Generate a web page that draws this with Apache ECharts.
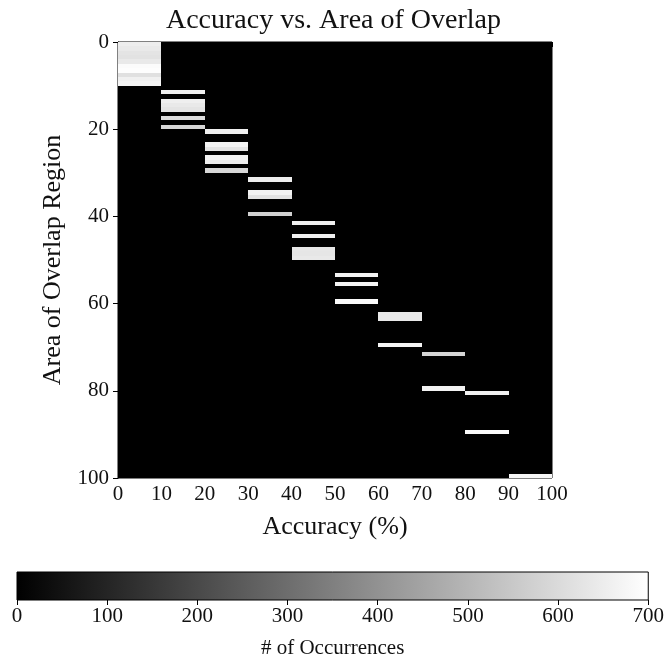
<!DOCTYPE html>
<html>
<head>
<meta charset="utf-8">
<script src="https://cdn.jsdelivr.net/npm/echarts@6/dist/echarts.min.js"></script>
<style>
  html, body { margin: 0; padding: 0; background: #fff; }
  #chart { width: 667px; height: 660px; }
</style>
</head>
<body>
<div id="chart"></div>
<script>
// accuracy bins (left edge, %) and overlap rows
var accuracyBins = [0, 10, 20, 30, 40, 50, 60, 70, 80, 90];
var overlapRows = 100;

// non-zero cells: bin index, overlap row, count
var cellBin = [0, 0, 0, 0, 0, 0, 0, 0, 0, 0,
  1, 1, 1, 1, 1, 1,
  2, 2, 2, 2, 2, 2,
  3, 3, 3, 3,
  4, 4, 4, 4, 4,
  5, 5, 5,
  6, 6, 6,
  7, 7,
  8, 8,
  9];
var cellRow = [0, 1, 2, 3, 4, 5, 6, 7, 8, 9,
  11, 13, 14, 15, 17, 19,
  20, 23, 24, 26, 27, 29,
  31, 34, 35, 39,
  41, 44, 47, 48, 49,
  53, 55, 59,
  62, 63, 69,
  71, 79,
  80, 89,
  99];
var cellCount = [650, 640, 625, 620, 640, 690, 695, 615, 660, 670,
  660, 655, 640, 625, 600, 590,
  660, 670, 625, 665, 650, 590,
  650, 665, 620, 575,
  660, 660, 635, 630, 640,
  665, 670, 690,
  640, 640, 670,
  585, 665,
  660, 685,
  675];
var maxCount = 700;

// full grid of counts, zero where nothing was drawn
var counts = [];
accuracyBins.forEach(function (b) {
  for (var r = 0; r < overlapRows; r++) counts.push([b, r, 0]);
});
cellBin.forEach(function (b, k) {
  counts[b * overlapRows + cellRow[k]][2] = cellCount[k];
});

function gray(v) {
  var g = Math.round(255 * Math.min(v, maxCount) / maxCount);
  return 'rgb(' + g + ',' + g + ',' + g + ')';
}

var font = '"Liberation Serif", "DejaVu Serif", serif';
var chart = echarts.init(document.getElementById('chart'));

chart.setOption({
  animation: false,
  title: {
    text: 'Accuracy vs. Area of Overlap',
    left: 'center',
    top: 2,
    textStyle: { fontFamily: font, fontSize: 28, fontWeight: 'normal', color: '#111' }
  },
  grid: [
    { left: 118, right: 115, top: 42, bottom: 182, show: true, borderColor: '#000', borderWidth: 1, backgroundColor: '#000' },
    { left: 17, right: 14, top: 572, height: 34 }
  ],
  xAxis: [
    {
      gridIndex: 0, type: 'value', min: 0, max: 100, interval: 10,
      name: 'Accuracy (%)', nameLocation: 'middle', nameGap: 36,
      nameTextStyle: { fontFamily: font, fontSize: 26, color: '#111' },
      axisLine: { show: true, lineStyle: { color: '#000' } },
      axisTick: { show: true, length: 5, lineStyle: { color: '#000' } },
      axisLabel: { fontFamily: font, fontSize: 21, color: '#111', margin: 6 },
      splitLine: { show: false }
    },
    {
      gridIndex: 1, type: 'value', min: 0, max: maxCount, interval: 100,
      name: '# of Occurrences', nameLocation: 'middle', nameGap: 38,
      nameTextStyle: { fontFamily: font, fontSize: 21, color: '#111' },
      axisLine: { show: false },
      axisTick: { show: true, length: 5, lineStyle: { color: '#000' } },
      axisLabel: { fontFamily: font, fontSize: 21, color: '#111', margin: 6 },
      splitLine: { show: false }
    }
  ],
  yAxis: [
    {
      gridIndex: 0, type: 'value', min: 0, max: overlapRows, interval: 20, inverse: true,
      name: 'Area of Overlap Region', nameLocation: 'middle', nameGap: 52, nameRotate: 90,
      nameTextStyle: { fontFamily: font, fontSize: 26, color: '#111' },
      axisLine: { show: true, lineStyle: { color: '#000' } },
      axisTick: { show: true, length: 5, lineStyle: { color: '#000' } },
      axisLabel: { fontFamily: font, fontSize: 21, color: '#111', margin: 9 },
      splitLine: { show: false }
    },
    { gridIndex: 1, type: 'value', min: 0, max: 1, show: false }
  ],
  series: [
    {
      type: 'custom',
      xAxisIndex: 0, yAxisIndex: 0,
      clip: true,
      data: counts,
      renderItem: function (params, api) {
        var x0 = api.value(0), r = api.value(1), v = api.value(2);
        var p0 = api.coord([x0, r]);
        var p1 = api.coord([x0 + 10, r + 1]);
        // snap to whole pixels so stacked rows show no seams
        var left = Math.round(p0[0]), top = Math.round(p0[1]);
        return {
          type: 'rect',
          shape: { x: left, y: top, width: Math.round(p1[0]) - left, height: Math.round(p1[1]) - top },
          style: { fill: gray(v) }
        };
      }
    },
    {
      // colour bar
      type: 'custom',
      xAxisIndex: 1, yAxisIndex: 1,
      data: [[0, 0, maxCount, 1]],
      renderItem: function (params, api) {
        var p0 = api.coord([api.value(0), api.value(3)]);
        var p1 = api.coord([api.value(2), api.value(1)]);
        return {
          type: 'rect',
          shape: { x: p0[0], y: p0[1], width: p1[0] - p0[0], height: p1[1] - p0[1] },
          style: {
            fill: new echarts.graphic.LinearGradient(0, 0, 1, 0, [
              { offset: 0, color: gray(0) },
              { offset: 1, color: gray(maxCount) }
            ]),
            stroke: '#000',
            lineWidth: 1
          }
        };
      }
    }
  ]
});
</script>
</body>
</html>
